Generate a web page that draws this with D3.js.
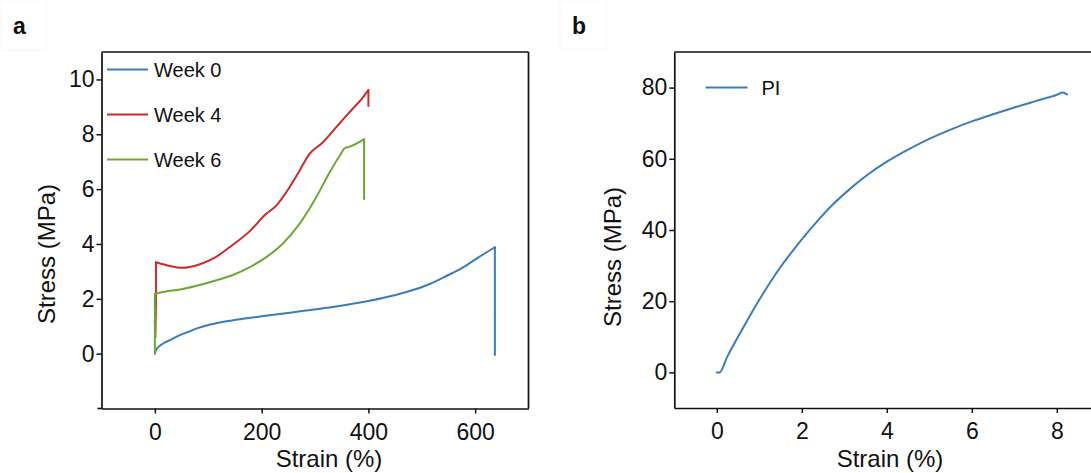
<!DOCTYPE html>
<html>
<head>
<meta charset="utf-8">
<script src="https://cdn.jsdelivr.net/npm/d3@7"></script>
<style>
  html, body { margin: 0; padding: 0; background: #fff; }
  svg { display: block; }
  text { font-family: "Liberation Sans", Arial, Helvetica, sans-serif; fill: #111; }
</style>
</head>
<body>
<svg id="fig" width="1091" height="473"></svg>
<script>
// Panel a: tensile curves after 0, 4 and 6 weeks
const week0Strain = [0, 2, 10, 20, 31, 45, 63, 80, 95, 115, 134, 165, 200, 257, 321, 400, 451, 485, 515, 548, 575, 599, 620, 637, 637, 637];
const week0Stress = [0, 0.12, 0.3, 0.42, 0.52, 0.66, 0.8, 0.93, 1.02, 1.11, 1.18, 1.27, 1.36, 1.5, 1.67, 1.92, 2.14, 2.33, 2.54, 2.85, 3.12, 3.42, 3.68, 3.88, 1.45, -0.05];

const week4Strain = [1, 2, 2, 8, 27, 52, 83, 114, 146, 177, 208, 227, 252, 271, 289, 314, 339, 364, 389, 400, 400];
const week4Stress = [0.6, 1.9, 3.33, 3.3, 3.2, 3.13, 3.25, 3.52, 3.97, 4.45, 5.09, 5.39, 6.06, 6.67, 7.27, 7.69, 8.24, 8.79, 9.33, 9.61, 9.03];

const week6Strain = [0, 0, 8, 52, 114, 146, 177, 208, 239, 271, 302, 327, 346, 357, 364, 392, 392];
const week6Stress = [0, 2.18, 2.22, 2.36, 2.67, 2.87, 3.15, 3.51, 4.0, 4.73, 5.69, 6.6, 7.21, 7.51, 7.54, 7.82, 5.64];

const seriesNamesA = ["Week 0", "Week 4", "Week 6"];
const seriesColorsA = ["#3a7dba", "#cb2a2c", "#6ca833"];

const xTicksA = [0, 200, 400, 600];
const yTicksA = [0, 2, 4, 6, 8, 10];

// Panel b: PI film
const piStrain = [0, 0.06, 0.25, 0.5, 0.75, 1.0, 1.25, 1.5, 1.75, 2.0, 2.35, 2.7, 3.1, 3.5, 4.0, 4.5, 5.0, 5.5, 6.0, 6.5, 7.0, 7.5, 8.0, 8.14, 8.24];
const piStress = [0, 0, 4.5, 10, 15.3, 20.4, 25.2, 29.6, 33.6, 37.4, 42.3, 46.8, 51.2, 55.1, 59.2, 62.6, 65.6, 68.2, 70.5, 72.5, 74.4, 76.2, 78.0, 78.6, 78.1];

const xTicksB = [0, 2, 4, 6, 8];
const yTicksB = [0, 20, 40, 60, 80];

const svg = d3.select("#fig");
const tickFont = 23, titleFont = 24, legendFont = 20;

function zip(xs, ys) { return xs.map((x, i) => [x, ys[i]]); }

// Split a curve into runs of strictly increasing strain; vertical steps
// (same strain, e.g. at break) become their own straight runs.
function splitRuns(pts) {
  const runs = [];
  let cur = [pts[0]];
  for (let i = 1; i < pts.length; i++) {
    const p = pts[i], q = pts[i - 1];
    if (p[0] > q[0]) {
      cur.push(p);
    } else {
      if (cur.length > 1) runs.push({ pts: cur, smooth: true });
      runs.push({ pts: [q, p], smooth: false });
      cur = [p];
    }
  }
  if (cur.length > 1) runs.push({ pts: cur, smooth: true });
  return runs;
}

function drawPanel(cfg) {
  const g = svg.append("g");
  const x = d3.scaleLinear().domain(cfg.xDomain).range([cfg.left, cfg.right]);
  const y = d3.scaleLinear().domain(cfg.yDomain).range([cfg.bottom, cfg.top]);

  // frame: top and right edges
  g.append("line").attr("x1", cfg.left).attr("x2", cfg.right)
    .attr("y1", cfg.top).attr("y2", cfg.top)
    .attr("stroke", "#111").attr("stroke-width", 1.7);
  g.append("line").attr("x1", cfg.right).attr("x2", cfg.right)
    .attr("y1", cfg.top).attr("y2", cfg.bottom)
    .attr("stroke", "#111").attr("stroke-width", 1.7);

  const xAxis = d3.axisBottom(x).tickValues(cfg.xTicks).tickSize(5).tickSizeOuter(0).tickPadding(10);
  const yAxis = d3.axisLeft(y).tickValues(cfg.yTicks).tickSize(5).tickSizeOuter(0).tickPadding(2);

  const gx = g.append("g").attr("transform", `translate(0,${cfg.bottom})`).call(xAxis);
  const gy = g.append("g").attr("transform", `translate(${cfg.left},0)`).call(yAxis);
  [gx, gy].forEach(a => {
    a.selectAll("path.domain").attr("stroke", "#111").attr("stroke-width", 1.7);
    a.selectAll(".tick line").attr("stroke", "#111").attr("stroke-width", 1.5);
    a.selectAll(".tick text").attr("font-size", tickFont)
      .attr("font-family", "Liberation Sans, Arial, sans-serif").attr("fill", "#111");
  });
  // small overhang of the bottom axis past the left axis
  if (cfg.overhang) {
    g.append("line").attr("x1", cfg.left - cfg.overhang).attr("x2", cfg.left)
      .attr("y1", cfg.bottom).attr("y2", cfg.bottom)
      .attr("stroke", "#111").attr("stroke-width", 1.7);
  }

  // axis titles
  g.append("text").attr("x", cfg.xTitleX).attr("y", 467)
    .attr("text-anchor", "middle").attr("font-size", titleFont).text("Strain (%)");
  g.append("text")
    .attr("transform", `translate(${cfg.yTitleX},${cfg.yTitleY}) rotate(-90)`)
    .attr("text-anchor", "middle").attr("font-size", titleFont).text("Stress (MPa)");

  // panel letter
  g.append("rect").attr("x", cfg.letterBox[0]).attr("y", 0)
    .attr("width", cfg.letterBox[1]).attr("height", cfg.letterBox[2])
    .attr("fill", "none").attr("stroke", "#f8f8f8").attr("stroke-width", 1);
  g.append("text").attr("x", cfg.letterX).attr("y", 34)
    .attr("font-size", 23).attr("font-weight", "bold").text(cfg.letter);

  const smoothLine = d3.line().x(d => x(d[0])).y(d => y(d[1])).curve(d3.curveMonotoneX);
  const straightLine = d3.line().x(d => x(d[0])).y(d => y(d[1])).curve(d3.curveLinear);
  cfg.series.forEach(s => {
    const sg = g.append("g").attr("fill", "none")
      .attr("stroke", s.color).attr("stroke-width", 2)
      .attr("stroke-linejoin", "round").attr("stroke-linecap", "round");
    splitRuns(zip(s.xs, s.ys)).forEach(r => {
      sg.append("path").attr("d", (r.smooth ? smoothLine : straightLine)(r.pts));
    });
  });

  // legend
  cfg.series.forEach((s, i) => {
    const ly = cfg.legendY + i * 45;
    g.append("line").attr("x1", cfg.legendX).attr("x2", cfg.legendX + cfg.legendLen)
      .attr("y1", ly).attr("y2", ly).attr("stroke", s.color).attr("stroke-width", 2);
    g.append("text").attr("x", cfg.legendX + cfg.legendLen + cfg.legendGap).attr("y", ly + 7)
      .attr("font-size", legendFont).text(s.name);
  });
}

drawPanel({
  letter: "a", letterX: 13, letterBox: [0, 46, 50],
  left: 101.5, right: 528.5, top: 52, bottom: 408.5, overhang: 4,
  xDomain: [-100, 700], yDomain: [-2, 11],
  xTicks: xTicksA, yTicks: yTicksA,
  xTitleX: 329, yTitleX: 55, yTitleY: 254,
  legendX: 107, legendLen: 41, legendGap: 6, legendY: 69.5,
  series: [
    { name: seriesNamesA[0], color: seriesColorsA[0], xs: week0Strain, ys: week0Stress },
    { name: seriesNamesA[1], color: seriesColorsA[1], xs: week4Strain, ys: week4Stress },
    { name: seriesNamesA[2], color: seriesColorsA[2], xs: week6Strain, ys: week6Stress }
  ]
});

drawPanel({
  letter: "b", letterX: 572, letterBox: [560, 46, 49],
  left: 674.3, right: 1099.3, top: 52, bottom: 408, overhang: 0,
  xDomain: [-1, 9], yDomain: [-10, 90],
  xTicks: xTicksB, yTicks: yTicksB,
  xTitleX: 890, yTitleX: 621, yTitleY: 257,
  legendX: 705.5, legendLen: 42, legendGap: 14, legendY: 87.5,
  series: [
    { name: "PI", color: "#3a7dba", xs: piStrain, ys: piStress }
  ]
});
</script>
</body>
</html>
